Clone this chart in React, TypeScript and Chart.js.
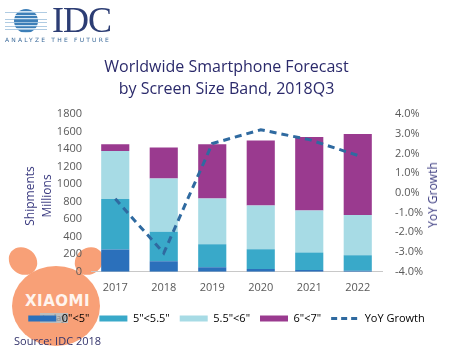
import React, { useEffect, useRef } from "react";
import { Chart, registerables } from "chart.js";

Chart.register(...registerables);

const years = ["2017", "2018", "2019", "2020", "2021", "2022"];
const size0to5 = [254, 119, 53, 31, 20, 11];
const size5to55 = [576, 339, 261, 225, 199, 179];
const size55to6 = [549, 606, 522, 500, 481, 459];
const size6to7 = [77, 353, 618, 742, 839, 923];
const yoyGrowth = [-0.3, -3.05, 2.5, 3.2, 2.7, 1.9];

const barLabels = ['0"<5"', '5"<5.5"', '5.5"<6"', '6"<7"'];
const barColors = ["#2b70bb", "#39a9c9", "#a7dbe5", "#9a3a8f"];
const lineColor = "#2f6aa0";
const FONT = "'Open Sans', sans-serif";

export default function App() {
  const ref = useRef<HTMLCanvasElement | null>(null);

  useEffect(() => {
    if (!ref.current) return;
    const barData = [size0to5, size5to55, size55to6, size6to7];
    const chart = new Chart(ref.current, {
      type: "bar",
      data: {
        labels: years,
        datasets: [
          {
            type: "line",
            label: "YoY Growth",
            data: yoyGrowth,
            yAxisID: "y1",
            borderColor: lineColor,
            borderWidth: 3,
            borderDash: [7, 5],
            pointRadius: 0,
            fill: false,
            tension: 0,
            order: 0,
          } as any,
          ...barData.map((d, i) => ({
            type: "bar",
            label: barLabels[i],
            data: d,
            backgroundColor: barColors[i],
            yAxisID: "y",
            categoryPercentage: 1,
            barPercentage: 0.58,
            order: 1,
          })),
        ],
      },
      options: {
        animation: false,
        responsive: false,
        maintainAspectRatio: false,
        layout: { padding: { top: 56, bottom: 18, left: 0, right: 0 } },
        plugins: {
          tooltip: { enabled: false },
          title: {
            display: true,
            text: ["Worldwide Smartphone Forecast", "by Screen Size Band, 2018Q3"],
            color: "#2b2a6b",
            font: { family: FONT, size: 16, weight: "normal", lineHeight: 1.375 },
            padding: { top: 0, bottom: 14 },
          },
          legend: {
            position: "bottom",
            labels: {
              usePointStyle: true,
              pointStyleWidth: 28,
              boxHeight: 6,
              padding: 10,
              color: "#595959",
              font: { family: FONT, size: 11 },
              generateLabels: () => {
                const items: any[] = barLabels.map((t, i) => ({
                  text: t,
                  fillStyle: barColors[i],
                  strokeStyle: barColors[i],
                  lineWidth: 0,
                  pointStyle: "rect",
                  datasetIndex: i + 1,
                  hidden: false,
                }));
                items.push({
                  text: "YoY Growth",
                  fillStyle: "rgba(0,0,0,0)",
                  strokeStyle: lineColor,
                  lineWidth: 3,
                  lineDash: [6, 4],
                  pointStyle: "line",
                  datasetIndex: 0,
                  hidden: false,
                });
                return items;
              },
            },
          },
        },
        scales: {
          x: {
            stacked: true,
            grid: { display: false, drawTicks: false },
            border: { display: true, color: "#c8c8c8" },
            ticks: { color: "#595959", font: { family: FONT, size: 11 }, padding: 9 },
          },
          y: {
            stacked: true,
            position: "left",
            min: 0,
            max: 1800,
            grid: { display: false, drawTicks: false },
            border: { display: false },
            ticks: {
              stepSize: 200,
              color: "#595959",
              font: { family: FONT, size: 11 },
              padding: 9,
              callback: (v: any) => String(v),
            },
            afterFit: (s: any) => {
              s.width = 91;
            },
          },
          y1: {
            position: "right",
            min: -4,
            max: 4,
            grid: { display: false, drawTicks: false },
            border: { display: false },
            ticks: {
              stepSize: 1,
              color: "#595959",
              font: { family: FONT, size: 11 },
              padding: 13,
              callback: (v: any) => Number(v).toFixed(1) + "%",
            },
            afterFit: (s: any) => {
              s.width = 71;
            },
          },
        },
      } as any,
    });
    return () => chart.destroy();
  }, []);

  const rot = (cx: number, cy: number, deg: number): React.CSSProperties => ({
    position: "absolute",
    left: cx,
    top: cy,
    transform: `translate(-50%, -50%) rotate(${deg}deg)`,
    whiteSpace: "nowrap",
    lineHeight: 1,
    fontFamily: FONT,
    fontSize: 12,
    color: "#3b3b80",
  });

  return (
    <div style={{ position: "absolute", left: 0, top: 0, width: 453, height: 352, overflow: "hidden", background: "#fff" }}>
      {/* watermark (behind chart) */}
      <div style={{ position: "absolute", left: 8, top: 248, width: 30, height: 26, borderRadius: "50%", background: "#f8a077", transform: "rotate(40deg)" }} />
      <div style={{ position: "absolute", left: 74, top: 248, width: 30, height: 26, borderRadius: "50%", background: "#f8a077", transform: "rotate(-40deg)" }} />
      <div style={{ position: "absolute", left: 12, top: 266, width: 88, height: 80, borderRadius: "50%", background: "#f8a077" }} />
      <div style={{ position: "absolute", left: 25, top: 292, fontFamily: "'DejaVu Sans', sans-serif", fontWeight: "bold", fontSize: 15, color: "#fff4ee", letterSpacing: 0.5 }}>XIAOMI</div>
      <div style={{ position: "absolute", left: 40, top: 313, width: 28, height: 10, background: "#bdbdbd", color: "#8a8a8a", fontFamily: FONT, fontSize: 9, lineHeight: "10px", textAlign: "center" }}>today</div>

      <canvas ref={ref} width={453} height={352} style={{ position: "absolute", left: 0, top: 0, width: 453, height: 352 }} />

      {/* IDC logo */}
      <div style={{ position: "absolute", left: 14, top: 9, width: 24, height: 24, borderRadius: "50%", background: "repeating-linear-gradient(to bottom, #3d7fb8 0px, #3d7fb8 2px, #cfe3f2 2px, #cfe3f2 3.5px)" }} />
      <div style={{ position: "absolute", left: 5, top: 12, width: 42, height: 18, background: "repeating-linear-gradient(to bottom, #7aa9d0 0px, #7aa9d0 1px, transparent 1px, transparent 3.5px)", opacity: 0.6 }} />
      <div style={{ position: "absolute", left: 52, top: 2, fontFamily: "'Liberation Serif', 'DejaVu Serif', serif", fontSize: 36, lineHeight: "36px", color: "#2c3d74", letterSpacing: -1 }}>IDC</div>
      <div style={{ position: "absolute", left: 5, top: 36, fontFamily: "'DejaVu Sans', sans-serif", fontSize: 6, letterSpacing: 2.2, color: "#3b6a9a", whiteSpace: "nowrap" }}>ANALYZE THE FUTURE</div>

      {/* axis titles */}
      <div style={rot(30, 196, -90)}>Shipments</div>
      <div style={rot(47, 196, -90)}>Millions</div>
      <div style={rot(433, 195, -90)}>YoY Growth</div>

      {/* source */}
      <div style={{ position: "absolute", left: 14, top: 333, fontFamily: FONT, fontSize: 11, color: "#33336b", whiteSpace: "nowrap" }}>Source: IDC 2018</div>
    </div>
  );
}
